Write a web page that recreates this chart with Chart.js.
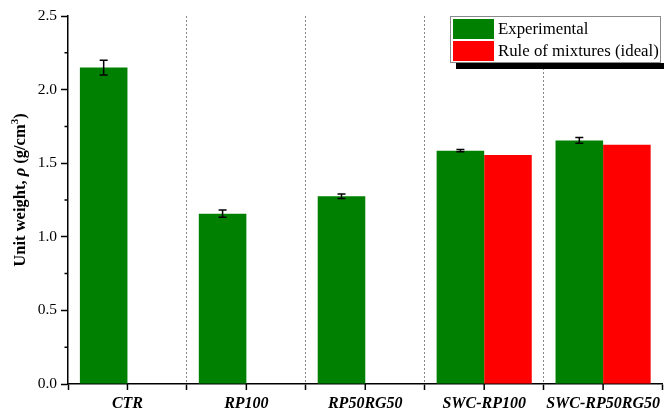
<!DOCTYPE html>
<html>
<head>
<meta charset="utf-8">
<script src="https://cdn.jsdelivr.net/npm/chart.js@4"></script>
<style>
    html, body { margin: 0; padding: 0; background: #fff; }
    #wrap { width: 664px; height: 414px; }
</style>
</head>
<body>
<div id="wrap"><canvas id="densityChart"></canvas></div>
<script>
const categories = ["CTR", "RP100", "RP50RG50", "SWC-RP100", "SWC-RP50RG50"]
const experimental = [2.15, 1.157, 1.275, 1.585, 1.655]
const experimentalErr = [0.05, 0.025, 0.015, 0.008, 0.02]
const ruleOfMixtures = [null, null, null, 1.555, 1.625]
const yTicks = [0, 0.5, 1.0, 1.5, 2.0, 2.5]

const serif = '"Liberation Serif", "Times New Roman", serif'

// error bars on the experimental series
const errorBars = {
    id: "errorBars",
    afterDatasetsDraw(chart) {
        const ctx = chart.ctx
        const y = chart.scales.y
        const meta = chart.getDatasetMeta(0)
        ctx.save()
        ctx.strokeStyle = "#000"
        ctx.lineWidth = 1.5
        meta.data.forEach((bar, i) => {
            const v = experimental[i]
            const e = experimentalErr[i]
            const top = y.getPixelForValue(v + e)
            const bot = y.getPixelForValue(v - e)
            ctx.beginPath()
            ctx.moveTo(bar.x, top); ctx.lineTo(bar.x, bot)
            ctx.moveTo(bar.x - 4, top); ctx.lineTo(bar.x + 4, top)
            ctx.moveTo(bar.x - 4, bot); ctx.lineTo(bar.x + 4, bot)
            ctx.stroke()
        })
        ctx.restore()
    }
}

// minor ticks, centre ticks, axis title and the boxed legend
const decorations = {
    id: "decorations",
    afterDraw(chart) {
        const ctx = chart.ctx
        const area = chart.chartArea
        const x = chart.scales.x
        const y = chart.scales.y
        ctx.save()
        ctx.strokeStyle = "#000"
        ctx.lineWidth = 1.5
        ctx.beginPath()
        for (let v = 0.25; v < 2.5; v += 0.5) {
            const py = y.getPixelForValue(v)
            ctx.moveTo(area.left, py); ctx.lineTo(area.left - 3.5, py)
        }
        categories.forEach((c, i) => {
            const px = x.getPixelForValue(i)
            ctx.moveTo(px, area.bottom); ctx.lineTo(px, area.bottom + 6)
        })
        ctx.stroke()

        // y title with italic rho and superscript 3
        ctx.translate(21, (area.top + area.bottom) / 2 - 10)
        ctx.rotate(-Math.PI / 2)
        ctx.fillStyle = "#000"
        ctx.textBaseline = "middle"
        const parts = [
            ["bold 16.5px " + serif, "Unit weight, ", 0],
            ["bold italic 16.5px " + serif, "\u03c1", 0],
            ["bold 16.5px " + serif, " (g/cm", 0],
            ["bold 11px " + serif, "3", -6],
            ["bold 16.5px " + serif, ")", 0]
        ]
        let total = 0
        parts.forEach(p => { ctx.font = p[0]; total += ctx.measureText(p[1]).width })
        let cx = -total / 2
        parts.forEach(p => {
            ctx.font = p[0]
            ctx.fillText(p[1], cx, p[2])
            cx += ctx.measureText(p[1]).width
        })
        ctx.restore()

        // legend with a drop shadow along the bottom
        ctx.save()
        ctx.fillStyle = "#000"
        ctx.fillRect(456, 63, 208, 6)
        ctx.fillStyle = "#fff"
        ctx.fillRect(450, 16, 211, 47)
        ctx.strokeStyle = "#8a8a8a"
        ctx.lineWidth = 1
        ctx.strokeRect(450.5, 16.5, 210, 46)
        const items = [
            ["#008000", "Experimental"],
            ["#ff0000", "Rule of mixtures (ideal)"]
        ]
        ctx.font = "16.8px " + serif
        ctx.textBaseline = "middle"
        items.forEach((it, i) => {
            const top = 19 + i * 22
            ctx.fillStyle = it[0]
            ctx.fillRect(453, top, 41, 20)
            ctx.fillStyle = "#000"
            ctx.fillText(it[1], 498, top + 11)
        })
        ctx.restore()
    }
}

new Chart(document.getElementById("densityChart"), {
    type: "bar",
    data: {
        labels: categories,
        datasets: [
            {
                label: "Experimental",
                data: experimental,
                backgroundColor: "#008000"
            },
            {
                label: "Rule of mixtures (ideal)",
                data: ruleOfMixtures,
                backgroundColor: "#ff0000"
            }
        ]
    },
    options: {
        responsive: true,
        maintainAspectRatio: false,
        animation: false,
        layout: { padding: { top: 16, right: 0, left: 0, bottom: 0 } },
        datasets: {
            bar: { categoryPercentage: 0.8, barPercentage: 1.0 }
        },
        plugins: {
            legend: { display: false },
            tooltip: { enabled: false }
        },
        scales: {
            x: {
                grid: {
                    offset: true,
                    drawOnChartArea: true,
                    color: ctx => ctx.index > 0 ? "#888" : "rgba(0,0,0,0)",
                    lineWidth: 1,
                    tickColor: "#000",
                    tickWidth: 1.5,
                    tickLength: 6
                },
                border: { display: true, color: "#000", width: 1.5, dash: [2, 2] },
                ticks: {
                    color: "#000",
                    padding: 4,
                    maxRotation: 0,
                    autoSkip: false,
                    font: { family: serif, size: 16, style: "italic", weight: "bold" }
                },
                afterFit: scale => { scale.height = 30 }
            },
            y: {
                min: 0,
                max: 2.5,
                afterBuildTicks: scale => {
                    scale.ticks = yTicks.map(v => ({ value: v }))
                },
                grid: {
                    drawOnChartArea: false,
                    tickColor: "#000",
                    tickWidth: 1.5,
                    tickLength: 7
                },
                border: { display: true, color: "#000", width: 1.5 },
                ticks: {
                    color: "#000",
                    padding: 4,
                    callback: v => Number(v).toFixed(1),
                    font: { family: serif, size: 15.5 }
                },
                afterFit: scale => { scale.width = 68 }
            }
        }
    },
    plugins: [errorBars, decorations]
})
</script>
</body>
</html>
